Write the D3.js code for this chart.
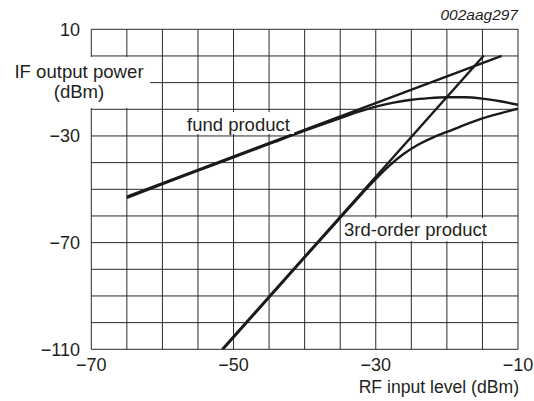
<!DOCTYPE html>
<html>
<head>
<meta charset="utf-8">
<script src="https://cdn.jsdelivr.net/npm/d3@7"></script>
<style>
  html, body { margin: 0; padding: 0; background: #fff; }
  svg { display: block; }
  text { font-family: "Liberation Sans", Arial, Helvetica, sans-serif; fill: #231f20; }
</style>
</head>
<body>
<div id="chart"></div>
<script>
// ---- data ----
const xTicks = [-70, -50, -30, -10];
const yTicks = [10, -30, -70, -110];
const xGrid = [-70, -65, -60, -55, -50, -45, -40, -35, -30, -25, -20, -15, -10];
const yGrid = [10, 0, -10, -20, -30, -40, -50, -60, -70, -80, -90, -100, -110];

// fundamental product: measured curve and its 1:1 asymptote
const fundX = [-65, -60, -55, -50, -45, -40, -35, -32.5, -30, -27.5, -25, -22.5, -20, -17.5, -15, -12.5, -10];
const fundY = [-53.2, -48.1, -43.0, -38.0, -33.0, -28.0, -23.3, -21.0, -19.0, -17.5, -16.4, -15.8, -15.5, -15.5, -16.0, -17.0, -18.3];
const fundLineX = [-65, -12.3];
const fundLineY = [-52.7, 0];

// 3rd-order product: measured curve and its 3:1 asymptote
const thirdX = [-52.5, -50, -45, -40, -35, -32, -30, -28, -26, -24, -22, -20, -17.5, -15, -12.5, -10];
const thirdY = [-113.0, -105.6, -90.6, -75.6, -60.7, -51.8, -46.1, -40.9, -36.6, -33.2, -30.6, -28.5, -25.8, -23.4, -21.5, -19.8];
const thirdLineX = [-51.6, -14.8];
const thirdLineY = [-110, 0.2];

const W = 534, H = 401;
const svg = d3.select("#chart").append("svg").attr("width", W).attr("height", H);

const x = d3.scaleLinear().domain([-70, -10]).range([91.3, 518]);
const y = d3.scaleLinear().domain([-110, 10]).range([349.3, 29.3]);

// grid
const grid = svg.append("g").attr("stroke", "#2a2a2a").attr("stroke-width", 1);
grid.selectAll("line.v").data(xGrid).join("line").attr("class", "v")
  .attr("x1", d => x(d)).attr("x2", d => x(d)).attr("y1", y(10)).attr("y2", y(-110));
grid.selectAll("line.h").data(yGrid).join("line").attr("class", "h")
  .attr("x1", x(-70)).attr("x2", x(-10)).attr("y1", d => y(d)).attr("y2", d => y(d));

// clip
svg.append("clipPath").attr("id", "clip").append("rect")
  .attr("x", x(-70)).attr("y", y(10)).attr("width", x(-10) - x(-70)).attr("height", y(-110) - y(10));

const line = d3.line().x(d => x(d[0])).y(d => y(d[1])).curve(d3.curveMonotoneX);
const curves = svg.append("g").attr("clip-path", "url(#clip)")
  .attr("fill", "none").attr("stroke", "#1a1a1a").attr("stroke-linecap", "butt");

curves.append("path").datum(d3.zip(fundLineX, fundLineY)).attr("d", line).attr("stroke-width", 2.4);
curves.append("path").datum(d3.zip(fundX, fundY)).attr("d", line).attr("stroke-width", 2.4);
curves.append("path").datum(d3.zip(thirdLineX, thirdLineY)).attr("d", line).attr("stroke-width", 2.4);
curves.append("path").datum(d3.zip(thirdX, thirdY)).attr("d", line).attr("stroke-width", 2.4);

// label boxes (white, cover grid) and labels
svg.append("rect").attr("x", 0).attr("y", 57).attr("width", 150).attr("height", 51).attr("fill", "#fff");
svg.append("rect").attr("x", 184).attr("y", 112).attr("width", 110).attr("height", 22).attr("fill", "#fff");
svg.append("rect").attr("x", 341).attr("y", 218).attr("width", 150).attr("height", 23).attr("fill", "#fff");

svg.append("text").attr("x", 79).attr("y", 78).attr("text-anchor", "middle")
  .attr("font-size", 18.6).text("IF output power");
svg.append("text").attr("x", 79).attr("y", 98).attr("text-anchor", "middle")
  .attr("font-size", 18.6).text("(dBm)");
svg.append("text").attr("x", 187).attr("y", 131).attr("font-size", 18.5).text("fund product");
svg.append("text").attr("x", 344).attr("y", 236).attr("font-size", 18.5).text("3rd-order product");

// axes tick labels
const fmt = d => d < 0 ? "\u2212" + Math.abs(d) : String(d);
svg.append("g").selectAll("text").data(yTicks).join("text")
  .attr("x", 80).attr("y", d => y(d) + 6.5).attr("text-anchor", "end")
  .attr("font-size", 18).text(fmt);
svg.append("g").selectAll("text").data(xTicks).join("text")
  .attr("x", d => x(d)).attr("y", 371).attr("text-anchor", "middle")
  .attr("font-size", 18).text(fmt);

svg.append("text").attr("x", 519).attr("y", 393).attr("text-anchor", "end")
  .attr("font-size", 17.6).text("RF input level (dBm)");
svg.append("text").attr("x", 518).attr("y", 20).attr("text-anchor", "end")
  .attr("font-size", 15.5).attr("font-style", "italic").text("002aag297");
</script>
</body>
</html>
